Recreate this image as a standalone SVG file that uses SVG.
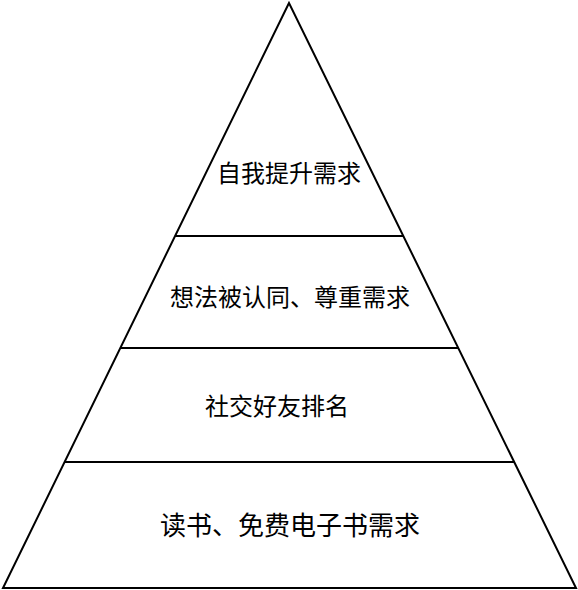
<svg xmlns="http://www.w3.org/2000/svg" width="578" height="590" viewBox="0 0 578 590">
<style>
.ln{fill:none;stroke:#000;stroke-width:2;stroke-linejoin:miter}
.t{font-family:"Noto Sans CJK SC","Noto Sans",sans-serif;font-size:24px;fill:#000;text-anchor:middle;dominant-baseline:central}
.b{font-size:26px}
</style>
<rect width="578" height="590" fill="#fff"/>
<g id="connectors">
<polygon class="ln" points="289,3 3,588 576,588"/>
<line class="ln" x1="175" y1="236" x2="403.3" y2="236"/>
<line class="ln" x1="120.3" y1="348" x2="458.3" y2="348"/>
<line class="ln" x1="64.6" y1="462" x2="514.2" y2="462"/>
</g>
<g id="layer1"><text class="t" x="289" y="171">自我提升需求</text></g>
<g id="layer2"><text class="t" x="290" y="295">想法被认同、尊重需求</text></g>
<g id="layer3"><text class="t" x="277" y="404">社交好友排名</text></g>
<g id="layer4"><text class="t b" x="290" y="523">读书、免费电子书需求</text></g>
</svg>
